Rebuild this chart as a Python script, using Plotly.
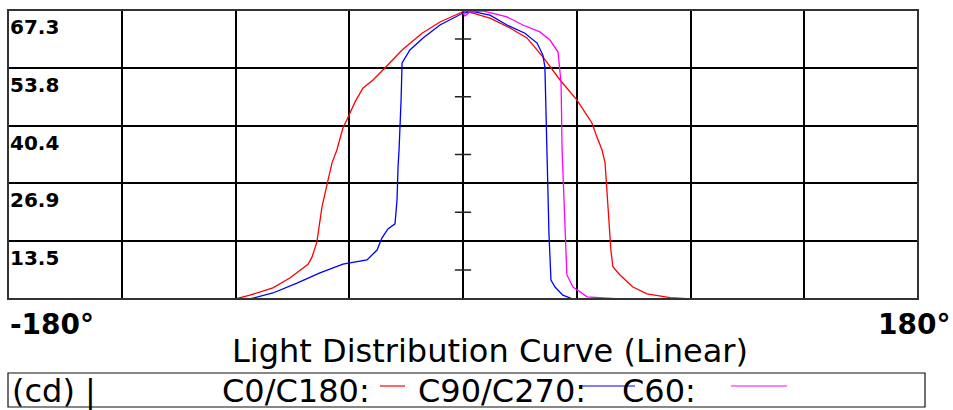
import plotly.graph_objects as go

# ---- data ----
c0_angles = [-90, -84.3, -75.2, -68.5, -61.3, -59.7, -57.8, -55.8, -53.4, -51.8, -49.9, -47.5, -45.1,
             -42.7, -39.6, -35.6, -30.9, -24.1, -16.2, -9.1, -1.2, 0.7, 3.9, 10.7, 18.6, 25.3, 31.6,
             38.4, 45.1, 51.0, 53.0, 55.0, 56.2, 57.3, 58.5, 59.3, 62.1, 67.2, 72.8, 81.9, 90]
c0_values = [0, 0.9, 2.6, 4.9, 8.1, 9.8, 13.3, 21.4, 27.7, 31.7, 34.7, 39.8, 42.8,
             45.9, 49.1, 51.0, 53.8, 58.0, 61.9, 64.5, 66.6, 67.1, 66.6, 65.4, 63.1, 60.8, 56.4,
             51.0, 46.3, 41.0, 37.7, 34.7, 31.7, 20.7, 11.4, 7.5, 5.6, 2.8, 1.2, 0.3, 0]

c90_angles = [-90, -84.3, -75.2, -65.7, -56.6, -47.5, -38.0, -34.0, -32.1, -29.7, -26.9, -26.1, -25.7,
              -25.3, -24.5, -24.1, -21.0, -15.8, -9.1, -1.2, 0, 4, 10.7, 17.4, 24.5, 29.3, 31.6, 32.4,
              33.2, 34.0, 34.8, 36.4, 39.5, 43.5, 90]
c90_values = [0, 0, 1.4, 3.7, 6.1, 8.1, 9.1, 11.4, 14.2, 16.3, 17.5, 23.1, 30.7,
              34.7, 46.3, 55.0, 58.0, 60.8, 63.8, 66.1, 66.6, 66.9, 66.1, 63.8, 61.9, 59.6, 56.8, 54.0,
              34.7, 15.4, 4.4, 2.8, 0.9, 0, 0]

c60_angles = [0, 0.8, 2.5, 7.9, 17.4, 23.7, 30.4, 34.4, 37.6, 38.8, 39.2, 40.3, 41.1, 43.5, 49.1, 62, 90]
c60_values = [66.6, 65.9, 66.8, 67.1, 65.7, 63.8, 62.2, 60.3, 57.5, 50.3, 34.7, 15.4, 5.6, 2.8, 0.5, 0, 0]

y_ticks = [0, 13.5, 26.9, 40.4, 53.8, 67.3]
y_labels = ["", "13.5", "26.9", "40.4", "53.8", "67.3"]
x_ticks = [-180, -135, -90, -45, 0, 45, 90, 135, 180]
x_min_label = "-180°"
x_max_label = "180°"
title_text = "Light Distribution Curve (Linear)"
legend_unit = "(cd) |"
legend_names = ["C0/C180:", "C90/C270:", "C60:"]
colors = ["#ff0000", "#0000ff", "#ff00ff"]

W, H = 953, 410
L, R, T, B = 8, 918, 10, 299  # plot area in px


def px(xp):
    return (xp - L) / (R - L)


def py(yp):
    return (B - yp) / (B - T)


fig = go.Figure()
fig.add_trace(go.Scatter(x=c0_angles, y=c0_values, mode="lines",
                         line=dict(color=colors[0], width=1.3), name=legend_names[0]))
fig.add_trace(go.Scatter(x=c90_angles, y=c90_values, mode="lines",
                         line=dict(color=colors[1], width=1.3), name=legend_names[1]))
fig.add_trace(go.Scatter(x=c60_angles, y=c60_values, mode="lines",
                         line=dict(color=colors[2], width=1.3), name=legend_names[2]))

shapes = []
# centre axis ticks at mid rows
for i in range(len(y_ticks) - 1):
    ym = (y_ticks[i] + y_ticks[i + 1]) / 2
    shapes.append(dict(type="line", xref="x", yref="y", x0=-3.2, x1=3.2, y0=ym, y1=ym,
                       line=dict(color="#222", width=1.5), layer="above"))
# outer frame
shapes.append(dict(type="rect", xref="paper", yref="paper", x0=0, x1=1, y0=0, y1=1,
                   line=dict(color="#333", width=2), layer="above"))
# legend box
shapes.append(dict(type="rect", xref="paper", yref="paper", x0=px(8), x1=px(925), y0=py(407), y1=py(373),
                   line=dict(color="#111", width=1.2)))
# legend line samples
for (x0, x1), c in zip([(380, 405), (582, 635), (731, 787)], colors):
    shapes.append(dict(type="line", xref="paper", yref="paper", x0=px(x0), x1=px(x1), y0=py(386), y1=py(386),
                       line=dict(color=c, width=1.2)))

ann = []
for v, t in zip(y_ticks, y_labels):
    if t:
        ann.append(dict(text="<b>%s</b>" % t, xref="paper", yref="y", x=0, y=v, xanchor="left", yanchor="top",
                        xshift=0, yshift=-3, showarrow=False,
                        font=dict(family="DejaVu Sans", size=20, color="black")))
ann.append(dict(text="<b>%s</b>" % x_min_label, xref="paper", yref="paper", x=px(8), y=py(324),
                xanchor="left", yanchor="middle", showarrow=False,
                font=dict(family="DejaVu Sans", size=28, color="black")))
ann.append(dict(text="<b>%s</b>" % x_max_label, xref="paper", yref="paper", x=px(952), y=py(324),
                xanchor="right", yanchor="middle", showarrow=False,
                font=dict(family="DejaVu Sans", size=28, color="black")))
ann.append(dict(text=title_text, xref="paper", yref="paper", x=px(490), y=py(351),
                xanchor="center", yanchor="middle", showarrow=False,
                font=dict(family="DejaVu Sans", size=32, color="black")))
for t, xp in zip([legend_unit] + legend_names, [10, 220, 416, 620]):
    ann.append(dict(text=t, xref="paper", yref="paper", x=px(xp), y=py(391),
                    xanchor="left", yanchor="middle", showarrow=False,
                    font=dict(family="DejaVu Sans", size=32, color="black")))

fig.update_layout(
    width=W, height=H,
    margin=dict(l=L, r=W - R, t=T, b=H - B),
    paper_bgcolor="white", plot_bgcolor="white",
    showlegend=False,
    shapes=shapes, annotations=ann,
    xaxis=dict(range=[-180, 180], tickvals=x_ticks, showticklabels=False, showgrid=True,
               gridcolor="black", gridwidth=1.5, zeroline=False, showline=False, ticks=""),
    yaxis=dict(range=[0, 67.3], tickvals=y_ticks, showticklabels=False, showgrid=True,
               gridcolor="black", gridwidth=1.5, zeroline=False, showline=False, ticks=""),
)

fig.write_html("out.html", config={"displayModeBar": False},
               post_script="document.body.style.margin='0';document.body.style.overflow='hidden';")
